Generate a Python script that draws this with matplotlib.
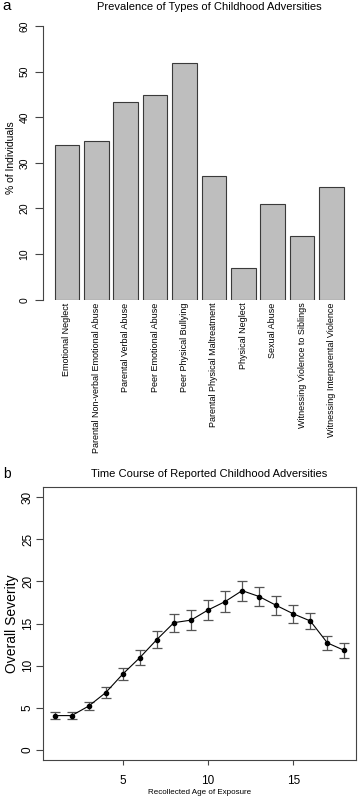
import numpy as np
import matplotlib
matplotlib.use("Agg", force=True)
import matplotlib.pyplot as plt

plt.rcParams['font.family'] = ['Liberation Sans', 'DejaVu Sans']

# panel a data
categories = [
    "Emotional Neglect",
    "Parental Non-verbal Emotional Abuse",
    "Parental Verbal Abuse",
    "Peer Emotional Abuse",
    "Peer Physical Bullying",
    "Parental Physical Maltreatment",
    "Physical Neglect",
    "Sexual Abuse",
    "Witnessing Violence to Siblings",
    "Witnessing Interparental Violence",
]
prevalence = [34.0, 34.8, 43.4, 44.9, 51.9, 27.1, 7.0, 20.9, 13.9, 24.8]

# panel b data
ages = list(range(1, 19))
severity = [4.07, 4.07, 5.2, 6.8, 9.0, 10.95, 13.1, 15.1, 15.4, 16.6,
            17.6, 18.9, 18.2, 17.15, 16.15, 15.3, 12.7, 11.8]
severity_err = [0.37, 0.37, 0.5, 0.7, 0.73, 0.87, 1.0, 1.05, 1.15, 1.15,
                1.2, 1.2, 1.1, 1.1, 1.07, 1.0, 0.87, 0.85]

axis_col = "#444444"

fig = plt.figure(figsize=(3.58, 8.0), dpi=100)

# ---- panel a ----
ax1 = fig.add_axes([43 / 358, 1 - 299.7 / 800, (355.4 - 43) / 358, (299.7 - 15) / 800])
xpos = 0.7 + 1.2 * np.arange(len(categories))
ax1.bar(xpos, prevalence, width=1.0, color="#bebebe", edgecolor="#3a3a3a", linewidth=0.8)
ax1.set_xlim(-0.272, 12.472)
ax1.set_ylim(0, 62.4)
ax1.set_yticks(range(0, 61, 10))
ax1.tick_params(axis="y", length=5.7, width=0.8, color=axis_col, labelsize=7.5, pad=4,
                labelrotation=90)
for lab in ax1.get_yticklabels():
    lab.set_va("center")
ax1.set_xticks(xpos)
ax1.set_xticklabels(categories, rotation=90, fontsize=6.5)
ax1.tick_params(axis="x", length=0, pad=2)
for s in ["top", "right", "bottom"]:
    ax1.spines[s].set_visible(False)
ax1.spines["left"].set_bounds(0, 60)
ax1.spines["left"].set_color(axis_col)
ax1.spines["left"].set_linewidth(0.8)
ax1.set_ylabel("% of Individuals", fontsize=7.5, labelpad=2.5)
fig.text(209 / 358, 1 - 7 / 800, "Prevalence of Types of Childhood Adversities",
         fontsize=8, ha="center", va="center")
fig.text(2 / 358, 1 - 10 / 800, "a", fontsize=11, va="baseline", ha="left")

# ---- panel b ----
ax2 = fig.add_axes([43 / 358, 1 - 760 / 800, (356 - 43) / 358, (760 - 487) / 800])
ax2.errorbar(ages, severity, yerr=severity_err, fmt="none", ecolor="#555555",
             elinewidth=0.9, capsize=3.6, capthick=0.9)
ax2.plot(ages, severity, color="black", linewidth=0.8, marker="o", markersize=3)
ax2.set_xlim(0.32, 18.68)
ax2.set_ylim(-1.2, 31.2)
ax2.set_xticks([5, 10, 15])
ax2.set_yticks(range(0, 31, 5))
ax2.tick_params(axis="y", length=5, width=0.8, color=axis_col, labelsize=8.5, pad=1.5,
                labelrotation=90)
for lab in ax2.get_yticklabels():
    lab.set_va("center")
ax2.tick_params(axis="x", length=3.6, width=0.8, color=axis_col, labelsize=8.5, pad=7)
for s in ax2.spines.values():
    s.set_color(axis_col)
    s.set_linewidth(0.8)
ax2.set_ylabel("Overall Severity", fontsize=10, labelpad=2)
ax2.set_xlabel("Recollected Age of Exposure", fontsize=5.8, labelpad=2)
fig.text(209 / 358, 1 - 474 / 800, "Time Course of Reported Childhood Adversities",
         fontsize=8, ha="center", va="center")
fig.text(3 / 358, 1 - 478 / 800, "b", fontsize=10, va="baseline", ha="left")

fig.savefig("out.png", dpi=100)
